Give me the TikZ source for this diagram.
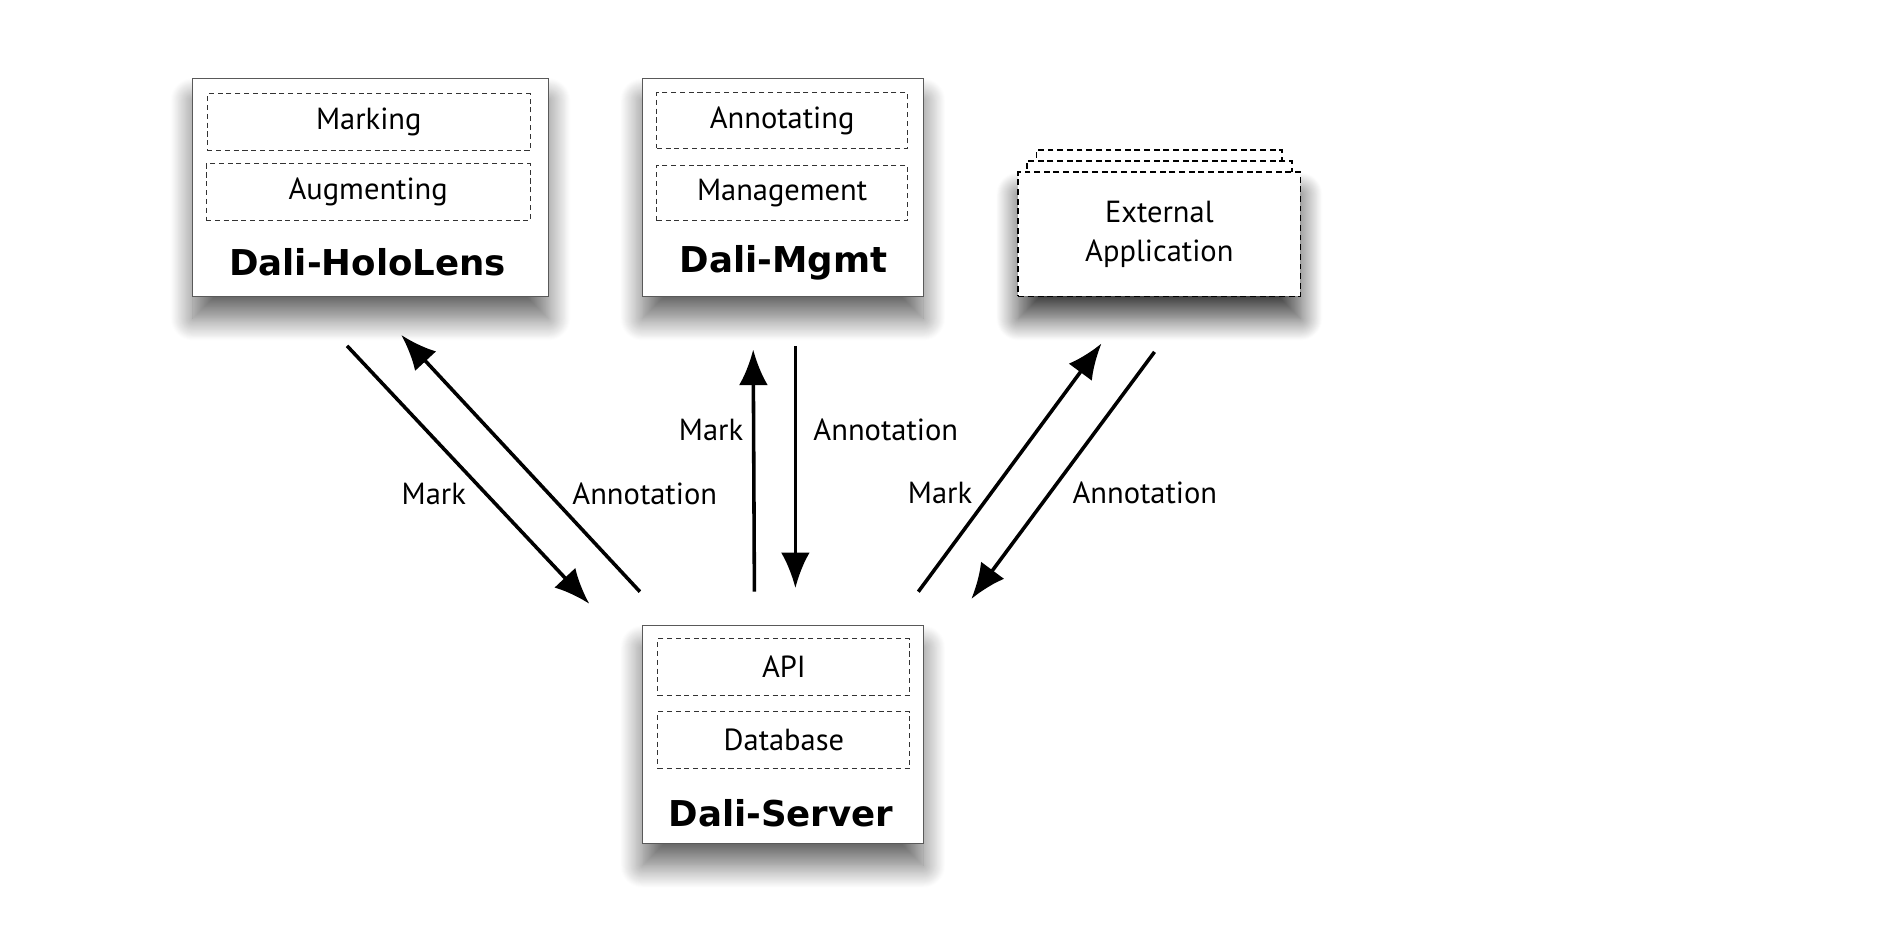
\documentclass[tikz,border=0pt]{standalone}
\usepackage{fontspec}
\setmainfont{PT Sans}
\newfontfamily\titlefont{DejaVu Sans}
\usetikzlibrary{arrows.meta,shadows.blur}

\begin{document}
\begin{tikzpicture}[x=0.025cm,y=-0.025cm,
  soft/.style={blur shadow={shadow xshift=0pt,shadow yshift=-13pt,shadow blur radius=13pt,
    shadow blur steps=24,shadow opacity=#1}},
  box/.style={draw=black!65,fill=white,line width=0.7pt,inner sep=0pt,soft=60},
  part/.style={draw=black!80,dash pattern=on 3pt off 2.2pt,line width=0.6pt,inner sep=0pt,
    font=\fontsize{18}{22}\selectfont},
  extbox/.style={draw,fill=white,dash pattern=on 3.5pt off 2.2pt,line width=1pt,
    minimum width=5.85cm,minimum height=2.575cm},
  title/.style={font=\titlefont\bfseries\fontsize{21}{25}\selectfont},
  flow/.style={line width=2.1pt,-{Latex[length=21pt,width=17pt]}},
  lbl/.style={font=\fontsize{18}{22}\selectfont}]
\useasboundingbox (0,0) rectangle (1560,773);

% Dali-HoloLens
\node[box,minimum width=7.375cm,minimum height=4.525cm] (holo) at (307.5,155.5) {};
\node[part,minimum width=6.7cm,minimum height=1.175cm] (marking) at (306,101.5) {Marking};
\node[part,minimum width=6.725cm,minimum height=1.175cm] (augment) at (305.5,159.5) {Augmenting};
\node[title] (holot) at (305,218) {Dali-HoloLens};

% Dali-Mgmt
\node[box,minimum width=5.825cm,minimum height=4.525cm] (mgmt) at (649.5,155.5) {};
\node[part,minimum width=5.2cm,minimum height=1.15cm] (annot) at (649,100) {Annotating};
\node[part,minimum width=5.2cm,minimum height=1.15cm] (manage) at (649,160) {Management};
\node[title] (mgmtt) at (650,218) {Dali-Mgmt};

% External Application (stack)
\node[extbox,minimum width=5.1cm] (ext3) at (962,176) {};
\node[extbox,minimum width=5.5cm] (ext2) at (962,185) {};
\node[extbox,soft=75,align=center,font=\fontsize{18}{23.5}\selectfont] (ext) at (962,194.5) {External\\Application};

% Dali-Server
\node[box,minimum width=5.825cm,minimum height=4.525cm] (server) at (649.5,609.5) {};
\node[part,minimum width=5.225cm,minimum height=1.175cm] (api) at (650.5,553.5) {API};
\node[part,minimum width=5.225cm,minimum height=1.175cm] (db) at (650.5,614) {Database};
\node[title] (servert) at (648,675) {Dali-Server};

% arrow ends
\coordinate (h1) at (288,287); \coordinate (s1) at (489,501);
\coordinate (s2) at (531,491); \coordinate (h2) at (333,278);
\coordinate (s3) at (626,491); \coordinate (m3) at (625,290);
\coordinate (m4) at (660,287); \coordinate (s4) at (660,488);
\coordinate (s5) at (762,491); \coordinate (e5) at (914,285);
\coordinate (e6) at (958,292); \coordinate (s6) at (806,497);

\draw[flow] (h1) -- (s1);
\draw[flow] (s2) -- (h2);
\draw[flow] (s3) -- (m3);
\draw[flow] (m4) -- (s4);
\draw[flow] (s5) -- (e5);
\draw[flow] (e6) -- (s6);

\node[lbl] (l1) at (360,410) {Mark};
\node[lbl] (l2) at (535,410) {Annotation};
\node[lbl] (l3) at (590,357) {Mark};
\node[lbl] (l4) at (735,357) {Annotation};
\node[lbl] (l5) at (780,409) {Mark};
\node[lbl] (l6) at (950,409) {Annotation};
\end{tikzpicture}
\end{document}
